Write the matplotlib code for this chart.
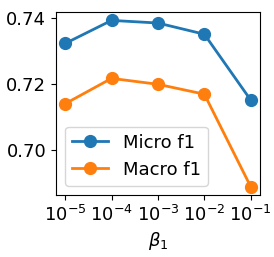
import matplotlib
matplotlib.use('Agg')
import matplotlib.pyplot as plt

betas = [1e-5, 1e-4, 1e-3, 1e-2, 1e-1]
micro_f1 = [0.7324, 0.7394, 0.7386, 0.7352, 0.7152]
macro_f1 = [0.7141, 0.7218, 0.7200, 0.7170, 0.6889]

plt.rcParams['font.size'] = 13

fig, ax = plt.subplots(figsize=(2.74, 2.57), dpi=100)
ax.plot(betas, micro_f1, marker='o', markersize=8.5, linewidth=2, label='Micro f1')
ax.plot(betas, macro_f1, marker='o', markersize=8.5, linewidth=2, label='Macro f1')
ax.set_xscale('log')
ax.set_xticks(betas)
ax.minorticks_off()
ax.set_yticks([0.70, 0.72, 0.74])
ax.set_xlabel(r'$\beta_1$')
ax.legend(loc='lower left')

fig.subplots_adjust(left=0.204, right=0.949, top=0.953, bottom=0.241)
fig.savefig('out.png')
